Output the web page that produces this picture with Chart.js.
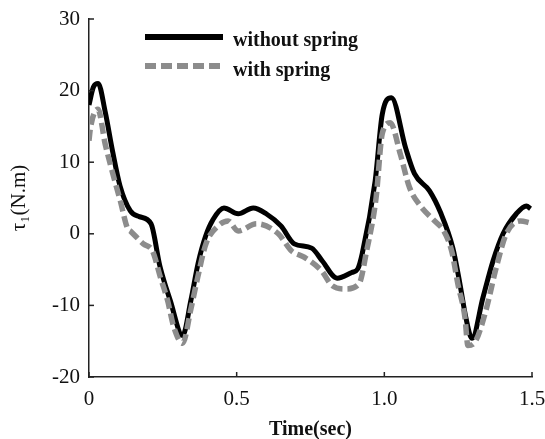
<!DOCTYPE html>
<html>
<head>
<meta charset="utf-8">
<script src="https://cdn.jsdelivr.net/npm/chart.js@4/dist/chart.umd.min.js"></script>
<style>
  body { margin: 0; background: #fff; }
  #wrap { width: 545px; height: 439px; }
</style>
</head>
<body>
<div id="wrap"><canvas id="torqueChart" width="545" height="439"></canvas></div>
<script>
// =========================
// Data
// =========================
const seriesLabels = ['without spring', 'with spring'];

const timeNoSpring = [0, 0.015, 0.031, 0.055, 0.08, 0.105, 0.14, 0.17, 0.21, 0.24, 0.275, 0.317,
    0.345, 0.37, 0.395, 0.42, 0.457, 0.505, 0.556, 0.6, 0.65, 0.695, 0.754, 0.79, 0.84, 0.89, 0.91,
    0.925, 0.969, 0.993, 1.024, 1.072, 1.102, 1.153, 1.19, 1.232, 1.256, 1.276, 1.297, 1.334, 1.368,
    1.402, 1.447, 1.481, 1.495];
const torqueNoSpring = [18, 20.5, 21, 17, 11.5, 6.7, 3.2, 2.4, 1.4, -4.5, -9.3, -14.2,
    -9.3, -4, -0.3, 2, 3.6, 2.8, 3.6, 2.8, 1.1, -1.4, -2, -3.8, -6.2, -5.4, -4.9,
    -2.8, 7.4, 16.7, 19, 12, 8.4, 6, 3, -2, -7, -11.7, -14.6, -8.9, -3.8,
    0, 2.8, 3.9, 3.5];

const timeSpring = [0, 0.005, 0.03, 0.055, 0.078, 0.106, 0.13, 0.14, 0.184, 0.215, 0.242, 0.266,
    0.287, 0.317, 0.344, 0.368, 0.396, 0.437, 0.471, 0.505, 0.567, 0.641, 0.686, 0.73, 0.788, 0.822,
    0.867, 0.914, 0.94, 0.972, 0.993, 1.02, 1.055, 1.085, 1.12, 1.17, 1.2, 1.228, 1.249, 1.273, 1.283,
    1.31, 1.344, 1.379, 1.413, 1.461, 1.495];
const torqueSpring = [13, 14.8, 17.4, 12.5, 8.8, 4.6, 0.8, 0.4, -1.4, -2.4, -6.1, -9.3,
    -13, -15.3, -10.7, -6.1, -1.4, 1.1, 1.8, 0.4, 1.4, 0, -2.4, -3.3, -5.2, -7.2,
    -7.7, -7, -2.4, 5, 14, 15.5, 11, 6.5, 4, 1.8, 0.5, -2.4, -7, -11.7, -15.6,
    -14.9, -10.7, -4.7, 0, 1.8, 1.5];

const xTicks = [0, 0.5, 1, 1.5];
const yTicks = [-20, -10, 0, 10, 20, 30];

const toPoints = (xs, ys) => xs.map((x, i) => ({ x: x, y: ys[i] }));

// =========================
// Plugin: inward ticks + legend inside plot
// =========================
const extrasPlugin = {
    id: 'extras',
    afterDraw(chart) {
        const ctx = chart.ctx;
        const xs = chart.scales.x, ys = chart.scales.y;
        const area = chart.chartArea;
        ctx.save();
        ctx.strokeStyle = '#222';
        ctx.lineWidth = 1.5;
        xTicks.forEach(v => {
            const px = xs.getPixelForValue(v);
            ctx.beginPath(); ctx.moveTo(px, area.bottom); ctx.lineTo(px, area.bottom - 5); ctx.stroke();
        });
        yTicks.forEach(v => {
            const py = ys.getPixelForValue(v);
            ctx.beginPath(); ctx.moveTo(area.left, py); ctx.lineTo(area.left + 5, py); ctx.stroke();
        });

        // legend
        const rows = [{ y: 37, base: 46 }, { y: 66, base: 76 }];
        chart.data.datasets.forEach((ds, i) => {
            const r = rows[i];
            ctx.beginPath();
            ctx.strokeStyle = ds.borderColor;
            ctx.lineWidth = 6;
            ctx.setLineDash(ds.borderDash || []);
            ctx.moveTo(145, r.y); ctx.lineTo(223, r.y);
            ctx.stroke();
            ctx.setLineDash([]);
            ctx.fillStyle = '#111';
            ctx.font = 'bold 20px "Liberation Serif"';
            ctx.textBaseline = 'alphabetic';
            ctx.fillText(ds.label, 233, r.base);
        });
        ctx.restore();
    }
};

// =========================
// Chart
// =========================
const ctx = document.getElementById('torqueChart').getContext('2d');
new Chart(ctx, {
    type: 'line',
    data: {
        datasets: [
            {
                label: seriesLabels[0],
                data: toPoints(timeNoSpring, torqueNoSpring),
                borderColor: '#000',
                borderWidth: 5,
                pointRadius: 0,
                cubicInterpolationMode: 'monotone',
                order: 1
            },
            {
                label: seriesLabels[1],
                data: toPoints(timeSpring, torqueSpring),
                borderColor: '#8c8c8c',
                borderWidth: 5.5,
                borderDash: [11, 5],
                pointRadius: 0,
                cubicInterpolationMode: 'monotone',
                order: 0
            }
        ]
    },
    options: {
        responsive: false,
        animation: false,
        layout: { padding: { left: 0, right: 13, top: 19, bottom: 0 } },
        plugins: { legend: { display: false }, tooltip: { enabled: false } },
        scales: {
            x: {
                type: 'linear',
                min: 0, max: 1.5,
                afterBuildTicks: s => { s.ticks = xTicks.map(v => ({ value: v })); },
                grid: { display: false, drawTicks: false },
                border: { display: true, color: '#222', width: 1.5 },
                ticks: { padding: 10, color: '#111', font: { family: 'Liberation Serif', size: 21 } },
                title: { display: true, text: 'Time(sec)', color: '#111', padding: { top: 0, bottom: -3 },
                         font: { family: 'Liberation Serif', size: 20, weight: 'bold' } },
                afterFit: s => { s.height = 62; s.paddingLeft = 0; s.paddingRight = 0; }
            },
            y: {
                min: -20, max: 30,
                afterBuildTicks: s => { s.ticks = yTicks.map(v => ({ value: v })); },
                grid: { display: false, drawTicks: false },
                border: { display: true, color: '#222', width: 1.5 },
                ticks: { padding: 9, color: '#111', font: { family: 'Liberation Serif', size: 21 } },
                title: { display: true, text: 'τ₁(N.m)', color: '#111', padding: { top: 7, bottom: 0 },
                         font: { family: 'Liberation Serif', size: 21 } },
                afterFit: s => { s.width = 89; s.paddingTop = 0; s.paddingBottom = 0; }
            }
        }
    },
    plugins: [extrasPlugin]
});
</script>
</body>
</html>
